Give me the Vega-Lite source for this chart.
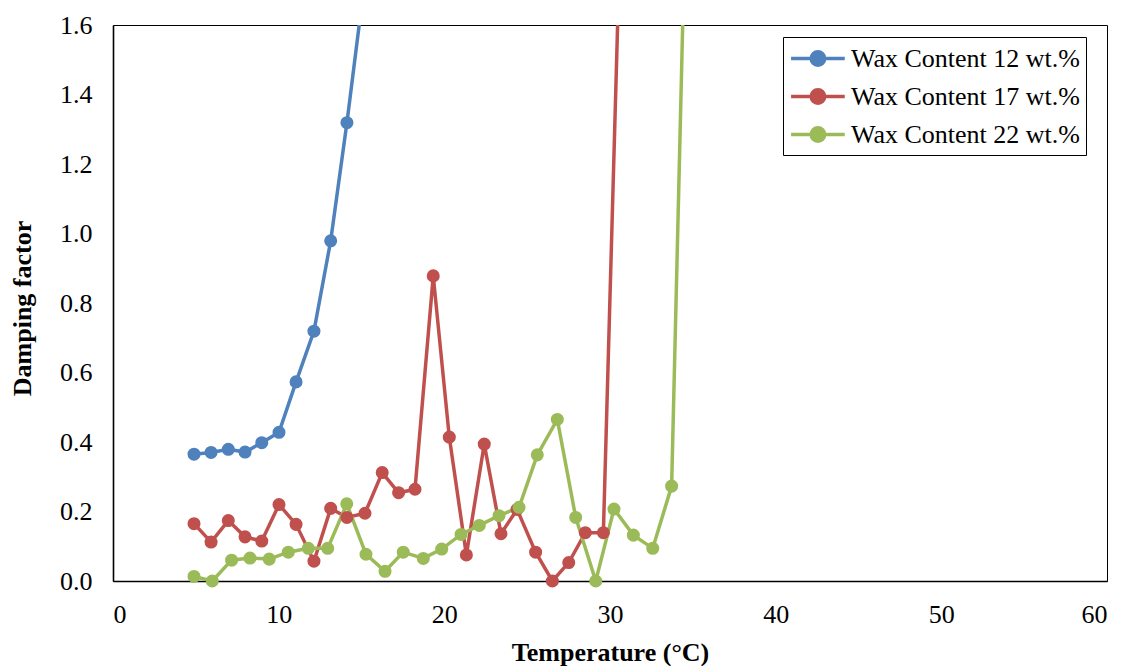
{
  "$schema": "https://vega.github.io/schema/vega-lite/v6.json",
  "width": 994,
  "height": 556,
  "autosize": {"type": "none"},
  "padding": {"left": 113, "top": 25, "right": 16, "bottom": 85},
  "background": "white",
  "config": {
    "view": {"stroke": "#000000", "strokeWidth": 1},
    "font": "Liberation Serif",
    "axis": {
      "grid": false,
      "ticks": false,
      "tickSize": 0,
      "domainColor": "#000000",
      "domainWidth": 1.6
    }
  },
  "data": {
    "values": [
      {"series": "Wax Content 12 wt.%", "temperature": 4.89, "damping": 0.365},
      {"series": "Wax Content 12 wt.%", "temperature": 5.92, "damping": 0.370},
      {"series": "Wax Content 12 wt.%", "temperature": 6.96, "damping": 0.379},
      {"series": "Wax Content 12 wt.%", "temperature": 7.97, "damping": 0.371},
      {"series": "Wax Content 12 wt.%", "temperature": 8.98, "damping": 0.398},
      {"series": "Wax Content 12 wt.%", "temperature": 10.02, "damping": 0.428},
      {"series": "Wax Content 12 wt.%", "temperature": 11.05, "damping": 0.573},
      {"series": "Wax Content 12 wt.%", "temperature": 12.13, "damping": 0.719},
      {"series": "Wax Content 12 wt.%", "temperature": 13.14, "damping": 0.979},
      {"series": "Wax Content 12 wt.%", "temperature": 14.12, "damping": 1.319},
      {"series": "Wax Content 12 wt.%", "temperature": 15.15, "damping": 1.71},

      {"series": "Wax Content 17 wt.%", "temperature": 4.89, "damping": 0.165},
      {"series": "Wax Content 17 wt.%", "temperature": 5.92, "damping": 0.112},
      {"series": "Wax Content 17 wt.%", "temperature": 6.96, "damping": 0.174},
      {"series": "Wax Content 17 wt.%", "temperature": 7.97, "damping": 0.127},
      {"series": "Wax Content 17 wt.%", "temperature": 8.98, "damping": 0.115},
      {"series": "Wax Content 17 wt.%", "temperature": 10.02, "damping": 0.220},
      {"series": "Wax Content 17 wt.%", "temperature": 11.05, "damping": 0.163},
      {"series": "Wax Content 17 wt.%", "temperature": 12.13, "damping": 0.057},
      {"series": "Wax Content 17 wt.%", "temperature": 13.14, "damping": 0.209},
      {"series": "Wax Content 17 wt.%", "temperature": 14.12, "damping": 0.183},
      {"series": "Wax Content 17 wt.%", "temperature": 15.21, "damping": 0.195},
      {"series": "Wax Content 17 wt.%", "temperature": 16.25, "damping": 0.312},
      {"series": "Wax Content 17 wt.%", "temperature": 17.24, "damping": 0.254},
      {"series": "Wax Content 17 wt.%", "temperature": 18.23, "damping": 0.264},
      {"series": "Wax Content 17 wt.%", "temperature": 19.33, "damping": 0.878},
      {"series": "Wax Content 17 wt.%", "temperature": 20.30, "damping": 0.414},
      {"series": "Wax Content 17 wt.%", "temperature": 21.33, "damping": 0.075},
      {"series": "Wax Content 17 wt.%", "temperature": 22.41, "damping": 0.394},
      {"series": "Wax Content 17 wt.%", "temperature": 23.42, "damping": 0.136},
      {"series": "Wax Content 17 wt.%", "temperature": 24.39, "damping": 0.206},
      {"series": "Wax Content 17 wt.%", "temperature": 25.51, "damping": 0.083},
      {"series": "Wax Content 17 wt.%", "temperature": 26.52, "damping": 0.0},
      {"series": "Wax Content 17 wt.%", "temperature": 27.51, "damping": 0.053},
      {"series": "Wax Content 17 wt.%", "temperature": 28.51, "damping": 0.139},
      {"series": "Wax Content 17 wt.%", "temperature": 29.60, "damping": 0.139},
      {"series": "Wax Content 17 wt.%", "temperature": 30.63, "damping": 1.89},

      {"series": "Wax Content 22 wt.%", "temperature": 4.89, "damping": 0.013},
      {"series": "Wax Content 22 wt.%", "temperature": 5.99, "damping": 0.0},
      {"series": "Wax Content 22 wt.%", "temperature": 7.16, "damping": 0.060},
      {"series": "Wax Content 22 wt.%", "temperature": 8.27, "damping": 0.066},
      {"series": "Wax Content 22 wt.%", "temperature": 9.43, "damping": 0.063},
      {"series": "Wax Content 22 wt.%", "temperature": 10.58, "damping": 0.083},
      {"series": "Wax Content 22 wt.%", "temperature": 11.79, "damping": 0.094},
      {"series": "Wax Content 22 wt.%", "temperature": 12.96, "damping": 0.094},
      {"series": "Wax Content 22 wt.%", "temperature": 14.11, "damping": 0.222},
      {"series": "Wax Content 22 wt.%", "temperature": 15.27, "damping": 0.077},
      {"series": "Wax Content 22 wt.%", "temperature": 16.42, "damping": 0.028},
      {"series": "Wax Content 22 wt.%", "temperature": 17.52, "damping": 0.083},
      {"series": "Wax Content 22 wt.%", "temperature": 18.73, "damping": 0.065},
      {"series": "Wax Content 22 wt.%", "temperature": 19.84, "damping": 0.092},
      {"series": "Wax Content 22 wt.%", "temperature": 21.01, "damping": 0.134},
      {"series": "Wax Content 22 wt.%", "temperature": 22.11, "damping": 0.160},
      {"series": "Wax Content 22 wt.%", "temperature": 23.30, "damping": 0.188},
      {"series": "Wax Content 22 wt.%", "temperature": 24.51, "damping": 0.212},
      {"series": "Wax Content 22 wt.%", "temperature": 25.61, "damping": 0.363},
      {"series": "Wax Content 22 wt.%", "temperature": 26.82, "damping": 0.465},
      {"series": "Wax Content 22 wt.%", "temperature": 27.93, "damping": 0.183},
      {"series": "Wax Content 22 wt.%", "temperature": 29.14, "damping": 0.0},
      {"series": "Wax Content 22 wt.%", "temperature": 30.24, "damping": 0.207},
      {"series": "Wax Content 22 wt.%", "temperature": 31.41, "damping": 0.132},
      {"series": "Wax Content 22 wt.%", "temperature": 32.58, "damping": 0.094},
      {"series": "Wax Content 22 wt.%", "temperature": 33.72, "damping": 0.273},
      {"series": "Wax Content 22 wt.%", "temperature": 34.89, "damping": 2.6}
    ]
  },
  "encoding": {
    "x": {
      "field": "temperature",
      "type": "quantitative",
      "scale": {"domain": [0, 60], "nice": false, "zero": false},
      "axis": {
        "title": "Temperature (°C)",
        "values": [0, 10, 20, 30, 40, 50, 60],
        "labelFont": "Liberation Serif",
        "labelFontSize": 26,
        "labelColor": "#000000",
        "labelPadding": 41,
        "labelBaseline": "alphabetic",
        "titleFont": "Liberation Serif",
        "titleFontSize": 26,
        "titleFontWeight": "bold",
        "titleColor": "#000000",
        "titleX": 497,
        "titleY": 79,
        "titleAlign": "center",
        "titleBaseline": "alphabetic"
      }
    },
    "y": {
      "field": "damping",
      "type": "quantitative",
      "scale": {"domain": [0, 1.6], "nice": false},
      "axis": {
        "title": "Damping factor",
        "values": [0, 0.2, 0.4, 0.6, 0.8, 1.0, 1.2, 1.4, 1.6],
        "format": ".1f",
        "labelFont": "Liberation Serif",
        "labelFontSize": 26,
        "labelColor": "#000000",
        "labelPadding": 21,
        "labelBaseline": "middle",
        "titleFont": "Liberation Serif",
        "titleFontSize": 26,
        "titleFontWeight": "bold",
        "titleColor": "#000000",
        "titleX": -91,
        "titleY": 283,
        "titleAngle": 270,
        "titleAlign": "center",
        "titleBaseline": "middle"
      }
    },
    "color": {
      "field": "series",
      "type": "nominal",
      "scale": {
        "domain": ["Wax Content 12 wt.%", "Wax Content 17 wt.%", "Wax Content 22 wt.%"],
        "range": ["#4F81BD", "#C0504D", "#9BBB59"]
      },
      "legend": {
        "title": null,
        "orient": "none",
        "legendX": 670,
        "legendY": 12,
        "padding": 6,
        "strokeColor": "#000000",
        "fillColor": "#FFFFFF",
        "labelFont": "Liberation Serif",
        "labelFontSize": 26,
        "labelColor": "#000000",
        "labelOffset": 31,
        "labelLimit": 400,
        "rowPadding": 8,
        "symbolType": "M-1,0H3M1.5,0A0.5,0.5 0 1,1 0.5,0A0.5,0.5 0 1,1 1.5,0Z",
        "symbolSize": 720,
        "symbolStrokeWidth": 3.5,
        "symbolOpacity": 1,
        "encode": {
          "symbols": {
            "update": {
              "fill": {"scale": "color", "field": "value"},
              "stroke": {"scale": "color", "field": "value"},
              "opacity": {"value": 1}
            }
          }
        }
      }
    }
  },
  "layer": [
    {
      "mark": {"type": "line", "strokeWidth": 3.5, "clip": true}
    },
    {
      "transform": [{"filter": "datum.damping <= 1.6"}],
      "mark": {"type": "circle", "size": 170, "opacity": 1}
    }
  ]
}
